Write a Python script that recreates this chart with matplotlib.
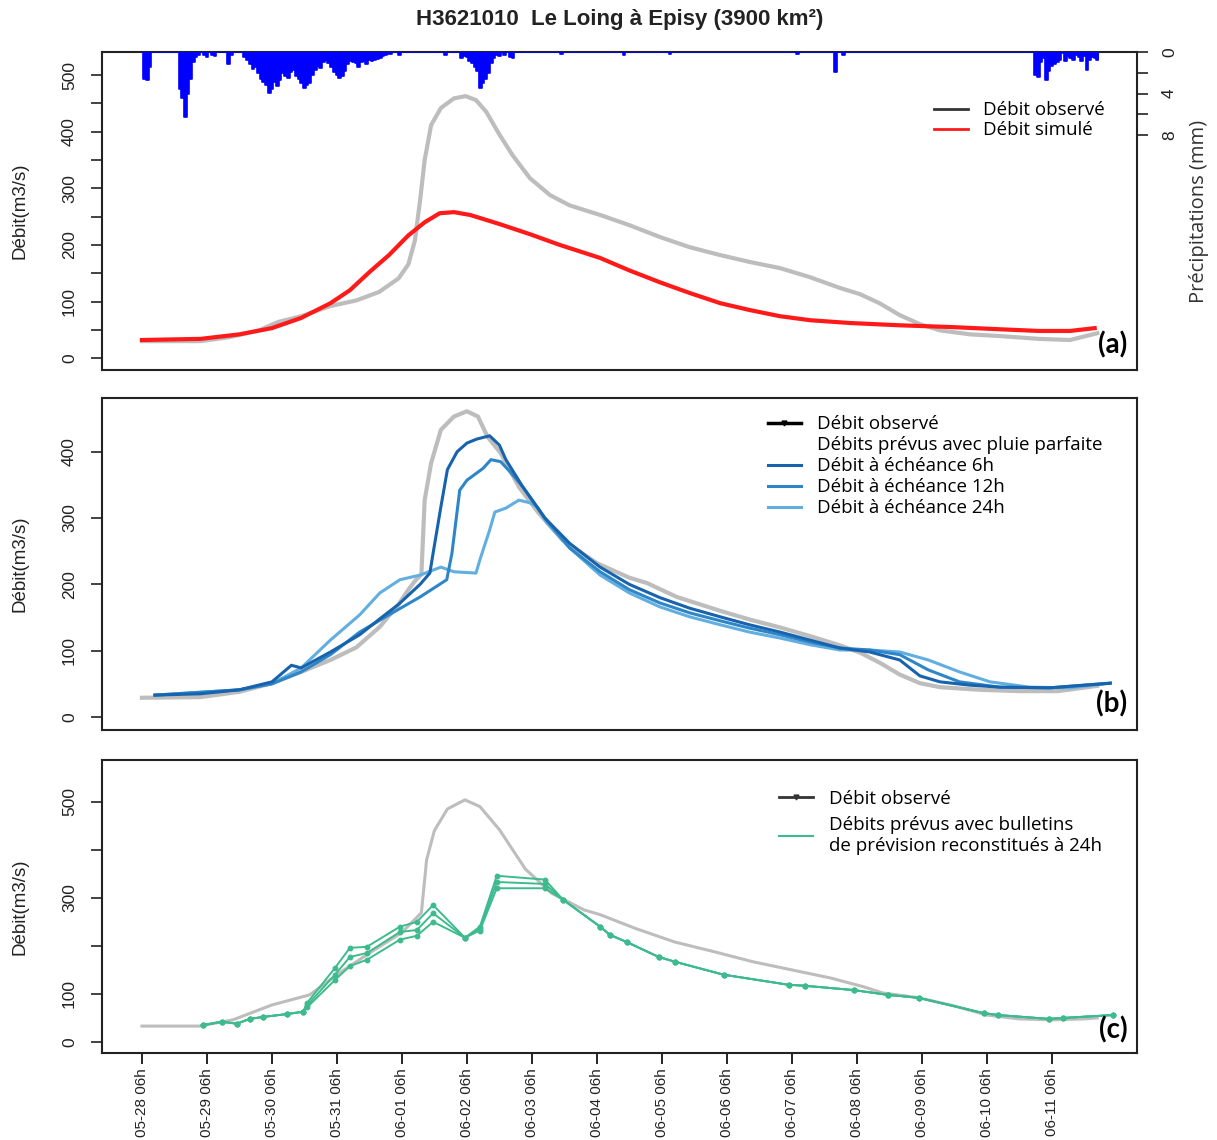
import numpy as np
import matplotlib
matplotlib.use("Agg")
import matplotlib.pyplot as plt
from matplotlib.lines import Line2D
from matplotlib.ticker import FixedLocator, FuncFormatter

plt.rcParams['font.family'] = ['Liberation Sans', 'DejaVu Sans']

# ---------------- data (time in days since 05-28 06h) ----------------
tick_labels = ["05-28 06h", "05-29 06h", "05-30 06h", "05-31 06h", "06-01 06h",
               "06-02 06h", "06-03 06h", "06-04 06h", "06-05 06h", "06-06 06h",
               "06-07 06h", "06-08 06h", "06-09 06h", "06-10 06h", "06-11 06h"]

# hourly rainfall (mm); hours not listed are dry
rain_hours = ([1, 2, 3, 14, 15, 16, 17, 18, 19, 20, 21, 23, 24, 26, 27, 32, 33]
              + list(range(38, 93)) + [95, 112]
              + list(range(118, 133)) + [134, 136, 137, 155, 178, 195, 242, 256, 259]
              + list(range(330, 354)))
rain_mm = ([2.6, 2.7, 1.4, 3.6, 4.4, 6.3, 4.0, 2.6, 1.0, 0.5, 0.3, 0.3, 0.5, 0.3, 0.4, 1.2, 0.3]
           + [0.5, 0.8, 1.2, 1.6, 1.4, 2.0, 2.6, 2.9, 3.2, 3.9, 3.6, 2.9, 3.3, 2.7, 2.0, 2.3,
              2.5, 1.9, 1.7, 2.3, 2.6, 3.0, 3.5, 3.2, 3.0, 2.2, 1.7, 1.3, 1.5, 1.0, 0.8, 1.1,
              1.4, 1.9, 2.2, 2.5, 2.3, 1.8, 1.2, 0.9, 1.0, 1.1, 1.4, 1.0, 0.9, 1.2, 0.8, 0.9,
              0.8, 0.7, 0.6, 0.4, 0.3, 0.2, 0.2]
           + [0.3, 0.3]
           + [0.6, 0.4, 0.5, 0.9, 1.1, 1.4, 1.8, 3.5, 3.0, 2.6, 2.0, 1.1, 0.6, 0.3, 0.4]
           + [0.3, 0.5, 0.6, 0.2, 0.3, 0.2, 0.2, 1.9, 0.3]
           + [2.2, 2.4, 1.0, 0.6, 2.7, 1.8, 1.3, 1.2, 1.0, 0.8, 0.1, 0.9, 0.4, 0.6, 0.8,
              0.3, 0.5, 0.9, 0.4, 1.7, 0.8, 0.5, 0.6, 0.8])
n_hours = 354

# (a) observed and simulated discharge
obs_a_days = [0, 0.9, 1.35, 1.8, 2.1, 2.45, 2.9, 3.3, 3.65, 3.95, 4.1, 4.2, 4.28, 4.35, 4.45,
              4.6, 4.8, 4.98, 5.14, 5.3, 5.48, 5.7, 5.97, 6.28, 6.58, 7.05, 7.5, 7.97, 8.43,
              8.9, 9.35, 9.82, 10.28, 10.74, 11.05, 11.35, 11.66, 11.97, 12.28, 12.74, 13.2,
              13.8, 14.28, 14.7]
obs_a = [30, 30, 37, 49, 64, 74, 92, 102, 117, 141, 166, 208, 279, 350, 412, 442, 459, 463,
         456, 435, 399, 359, 318, 288, 270, 253, 235, 214, 196, 182, 170, 159, 143, 124, 113,
         97, 76, 60, 49, 42, 39, 34, 32, 44]
sim_days = [0, 0.9, 1.5, 2.0, 2.45, 2.9, 3.2, 3.5, 3.8, 4.1, 4.35, 4.58, 4.8, 5.05, 5.5,
            5.97, 6.43, 7.05, 7.5, 7.97, 8.43, 8.9, 9.35, 9.82, 10.28, 10.9, 11.66, 12.43,
            13.2, 13.8, 14.28, 14.66]
sim = [32, 34, 42, 53, 71, 97, 120, 152, 182, 217, 240, 256, 258, 253, 237, 219, 200, 177,
       155, 134, 115, 97, 85, 74, 67, 62, 58, 55, 51, 48, 48, 53]

# (b) observed discharge and forecasts with perfect rainfall
obs_b_days = [0, 0.9, 1.5, 2.0, 2.45, 2.9, 3.3, 3.66, 3.95, 4.1, 4.2, 4.3, 4.35, 4.45, 4.6,
              4.8, 5.0, 5.17, 5.32, 5.52, 5.8, 6.1, 6.47, 7.0, 7.5, 7.77, 8.23, 8.9, 9.35,
              9.82, 10.28, 10.74, 11.05, 11.35, 11.66, 11.97, 12.28, 12.9, 13.5, 14.1, 14.7]
obs_b = [29, 30, 38, 51, 68, 86, 105, 136, 170, 192, 205, 215, 327, 383, 433, 453, 461, 453,
         422, 398, 347, 308, 267, 232, 210, 202, 181, 160, 147, 135, 122, 108, 97, 82, 64,
         51, 45, 41, 39, 39, 47]
f6_days = [0.2, 0.9, 1.5, 2.0, 2.3, 2.45, 2.9, 3.35, 3.66, 3.95, 4.28, 4.43, 4.48, 4.6, 4.7,
           4.85, 5.0, 5.15, 5.35, 5.5, 5.6, 5.86, 6.2, 6.58, 7.05, 7.5, 7.97, 8.43, 8.9, 9.35,
           9.82, 10.28, 10.74, 11.2, 11.66, 11.97, 12.28, 12.74, 13.2, 13.97, 14.9]
f6 = [33, 35, 41, 53, 78, 74, 98, 124, 148, 170, 200, 217, 247, 317, 373, 400, 413, 419, 424,
      410, 388, 347, 300, 262, 226, 200, 180, 164, 151, 139, 128, 116, 104, 98, 86, 62, 53,
      48, 45, 44, 51]
f12_days = [0.2, 1.5, 2.0, 2.45, 2.9, 3.35, 3.8, 4.28, 4.58, 4.69, 4.77, 4.89, 5.0, 5.25,
            5.37, 5.52, 5.68, 5.86, 6.2, 6.58, 7.05, 7.5, 7.97, 8.43, 8.9, 9.35, 9.82, 10.28,
            10.74, 11.2, 11.66, 12.1, 12.58, 13.2, 13.97, 14.9]
f12 = [33, 41, 50, 68, 94, 128, 154, 181, 200, 207, 247, 342, 357, 375, 388, 385, 368, 347,
       300, 255, 219, 192, 172, 157, 145, 134, 124, 113, 104, 101, 94, 71, 53, 45, 44, 51]
f24_days = [0.2, 1.5, 2.0, 2.45, 2.9, 3.35, 3.66, 3.97, 4.28, 4.6, 4.8, 5.14, 5.2, 5.35,
            5.43, 5.6, 5.75, 5.8, 5.97, 6.08, 6.23, 6.58, 7.05, 7.5, 7.97, 8.43, 8.9, 9.35,
            9.82, 10.28, 10.74, 11.2, 11.66, 12.1, 12.58, 13.05, 13.66, 14.28, 14.9]
f24 = [33, 41, 50, 74, 116, 154, 187, 207, 214, 226, 219, 217, 237, 282, 309, 315, 324, 327,
       323, 317, 293, 255, 214, 187, 166, 151, 139, 128, 119, 109, 101, 101, 98, 86, 68, 53,
       45, 44, 51]

# (c) observed discharge and forecasts from reconstructed 24h bulletins
obs_c_days = [0, 0.88, 1.4, 2.0, 2.58, 3.0, 3.5, 4.0, 4.3, 4.38, 4.5, 4.7, 4.97, 5.2, 5.5,
              5.9, 6.3, 6.8, 7.05, 7.6, 8.2, 8.8, 9.4, 10.0, 10.6, 11.1, 11.4, 11.95, 12.5,
              13.0, 13.5, 14.0, 14.5, 14.7]
obs_c = [33, 33, 46, 77, 98, 140, 185, 228, 269, 379, 440, 485, 504, 490, 442, 360, 310, 275,
         265, 236, 208, 188, 167, 150, 133, 115, 102, 92, 75, 56, 48, 46, 48, 50]
bull_days = [0.94, 1.23, 1.46, 1.66, 1.86, 2.23, 2.48, 2.54, 2.97, 3.20, 3.46, 3.97, 4.23,
             4.48, 4.97, 5.20, 5.46, 6.20, 6.48, 7.05, 7.20, 7.46, 7.95, 8.20, 8.95, 9.95,
             10.20, 10.95, 11.48, 11.95, 12.95, 13.18, 13.95, 14.18, 14.94]
bull_high = [35, 42, 38, 48, 52, 58, 63, 81, 154, 196, 198, 240, 250, 285, 217, 240, 346, 338,
             296, 240, 223, 208, 177, 167, 140, 119, 117, 108, 98, 92, 60, 56, 48, 50, 56]
bull_mid = [35, 42, 38, 48, 52, 58, 63, 76, 140, 177, 185, 229, 233, 268, 217, 236, 333, 329,
            296, 240, 223, 208, 177, 167, 140, 119, 117, 108, 98, 92, 60, 56, 48, 50, 56]
bull_low = [35, 42, 38, 48, 52, 58, 63, 72, 129, 158, 171, 213, 221, 250, 217, 232, 320, 320,
            296, 240, 223, 208, 177, 167, 140, 119, 117, 108, 98, 92, 60, 56, 48, 50, 56]

# ---------------- styles ----------------
C_OBS = '#bdbdbd'
C_SIM = '#ff1a1a'
C_RAIN = '#0000ff'
C_6H = '#1763ad'
C_12H = '#2e86c8'
C_24H = '#62aee0'
C_BULL = '#3dbb8e'
TXT = '#222222'
LEG_FONT = {'family': ['Open Sans', 'DejaVu Sans'], 'size': 13.5}
TICK_FONT = ['Liberation Sans Narrow', 'Liberation Sans', 'DejaVu Sans']

XMIN, XMAX = -0.615, 15.31

fig = plt.figure(figsize=(12.17, 11.4), dpi=100)
ax_a = fig.add_axes([0.0838, 0.67544, 0.8504, 0.27895])
ax_b = fig.add_axes([0.0838, 0.35965, 0.8504, 0.29123])
ax_c = fig.add_axes([0.0838, 0.07632, 0.8504, 0.25702])


def style_axes(ax, ymin, ymax, ticks, labelled):
    ax.set_xlim(XMIN, XMAX)
    ax.set_ylim(ymin, ymax)
    for sp in ax.spines.values():
        sp.set_linewidth(1.5)
        sp.set_color(TXT)
    ax.yaxis.set_major_locator(FixedLocator(ticks))
    ax.yaxis.set_major_formatter(FuncFormatter(
        lambda v, p: f"{int(round(v))}" if int(round(v)) in labelled else ""))
    ax.tick_params(axis='y', direction='out', length=8, width=1.2, pad=10,
                   labelsize=12.5, colors=TXT)
    for lab in ax.get_yticklabels():
        lab.set_rotation(90)
        lab.set_va('center')
        lab.set_family(TICK_FONT)
    ax.set_ylabel('Débit(m3/s)', fontsize=13.5, color=TXT)
    ax.yaxis.set_label_coords(-0.071, 0.5)


# ---- (a) ----
style_axes(ax_a, -21, 541, list(range(0, 501, 50)), [0, 100, 200, 300, 400, 500])
ax_a.set_xticks([])
ax_a.plot(obs_a_days, obs_a, color=C_OBS, lw=3, solid_joinstyle='round')
ax_a.plot(sim_days, sim, color=C_SIM, lw=3)

rain = np.zeros(n_hours)
rain[np.array(rain_hours)] = rain_mm
t_rain = np.arange(n_hours) / 24.0
ax_r = ax_a.twinx()
ax_r.set_xlim(XMIN, XMAX)
ax_r.set_ylim(30.6, 0)
ax_r.bar(t_rain, rain, width=1 / 24.0, color=C_RAIN, align='center', linewidth=0)
ax_r.plot(t_rain, rain, color=C_RAIN, lw=1.2, drawstyle='steps-mid')
for sp in ax_r.spines.values():
    sp.set_visible(False)
ax_r.yaxis.set_major_locator(FixedLocator([0, 2, 4, 6, 8]))
ax_r.yaxis.set_major_formatter(FuncFormatter(
    lambda v, p: f"{int(v)}" if int(v) in (0, 4, 8) else ""))
ax_r.tick_params(axis='y', direction='out', length=8, width=1.2, pad=10,
                 labelsize=12.5, colors=TXT)
for lab in ax_r.get_yticklabels():
    lab.set_rotation(90)
    lab.set_va('center')
    lab.set_family(TICK_FONT)
ax_r.set_ylabel('Précipitations (mm)', fontsize=14.5, color='#333333',
                family=['Open Sans', 'DejaVu Sans'])
ax_r.yaxis.set_label_coords(1.050, 0.5)

ax_a.legend([Line2D([], [], color='#333333', lw=2), Line2D([], [], color=C_SIM, lw=2)],
            ['Débit observé', 'Débit simulé'], loc='upper left',
            bbox_to_anchor=(0.795, 0.875), frameon=False, prop=LEG_FONT,
            handlelength=1.8, handletextpad=0.8, labelspacing=0.12, borderpad=0)

# ---- (b) ----
style_axes(ax_b, -19.6, 481, [0, 100, 200, 300, 400], [0, 100, 200, 300, 400])
ax_b.set_xticks([])
ax_b.plot(obs_b_days, obs_b, color=C_OBS, lw=3)
ax_b.plot(f24_days, f24, color=C_24H, lw=2.2)
ax_b.plot(f12_days, f12, color=C_12H, lw=2.2)
ax_b.plot(f6_days, f6, color=C_6H, lw=2.2)
ax_b.legend([Line2D([], [], color='black', lw=2.5, marker='v', markersize=3.5),
             Line2D([], [], color='none'),
             Line2D([], [], color=C_6H, lw=2.2),
             Line2D([], [], color=C_12H, lw=2.2),
             Line2D([], [], color=C_24H, lw=2.2)],
            ['Débit observé', 'Débits prévus avec pluie parfaite', 'Débit à échéance 6h',
             'Débit à échéance 12h', 'Débit à échéance 24h'],
            loc='upper left', bbox_to_anchor=(0.634, 0.976), frameon=False, prop=LEG_FONT,
            handlelength=1.8, handletextpad=0.85, labelspacing=0.16, borderpad=0)

# ---- (c) ----
style_axes(ax_c, -23, 587, [0, 100, 200, 300, 400, 500], [0, 100, 300, 500])
ax_c.plot(obs_c_days, obs_c, color=C_OBS, lw=2.2)
for vals in (bull_high, bull_mid, bull_low):
    ax_c.plot(bull_days, vals, color=C_BULL, lw=1.4, marker='o', markersize=3.2)
ax_c.set_xticks(np.arange(len(tick_labels)))
ax_c.set_xticklabels(tick_labels, rotation=90, family=TICK_FONT, fontsize=11, color=TXT)
ax_c.tick_params(axis='x', direction='out', length=8, width=1.2, pad=3)
ax_c.legend([Line2D([], [], color='#333333', lw=2, marker='v', markersize=3.5),
             Line2D([], [], color=C_BULL, lw=1.5)],
            ['Débit observé', 'Débits prévus avec bulletins\nde prévision reconstitués à 24h'],
            loc='upper left', bbox_to_anchor=(0.645, 0.93), frameon=False, prop=LEG_FONT,
            handlelength=1.8, handletextpad=0.85, labelspacing=0.45, borderpad=0)

# panel letters
for ax, letter in ((ax_a, '(a)'), (ax_b, '(b)'), (ax_c, '(c)')):
    ax.text(0.991, 0.08, letter, transform=ax.transAxes, ha='right', va='center',
            fontsize=20, fontweight='bold', family=['Lato', 'DejaVu Sans'], color='black')

fig.text(0.509, 0.9825, 'H3621010  Le Loing à Episy (3900 km²)', ha='center', va='center',
         fontsize=16, fontweight='bold', color=TXT)

fig.savefig('out.png', dpi=100)
